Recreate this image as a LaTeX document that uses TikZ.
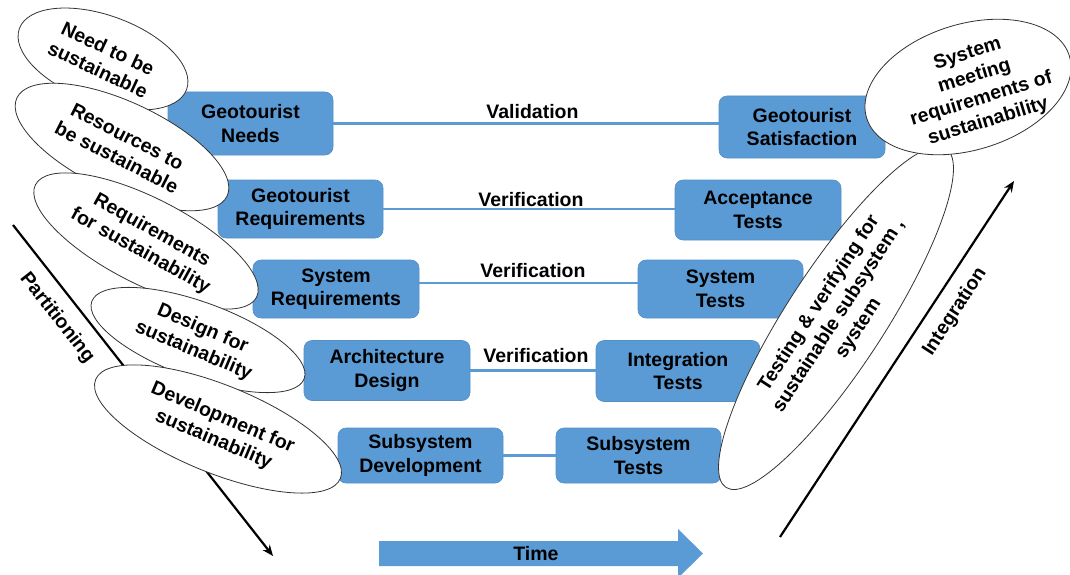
\documentclass[tikz,border=0pt]{standalone}
\usepackage{fontspec}
\setmainfont{Liberation Sans}
\usetikzlibrary{shapes.geometric,arrows.meta}
\definecolor{vblue}{RGB}{91,155,213}
\begin{document}
\begin{tikzpicture}[x=1pt,y=-1pt,
  every node/.style={font=\bfseries\fontsize{19.5}{23.5}\selectfont},
  stage/.style={rectangle, rounded corners=8pt, fill=vblue, draw=vblue!92!black,
    line width=0.6pt, align=center, inner sep=0pt},
  link/.style={draw=vblue, line width=2.5pt},
  linklbl/.style={anchor=base, inner sep=0pt},
  oval/.style={ellipse, draw=black!80, line width=0.8pt, fill=white, inner sep=0pt},
  ovaltext/.style={align=center, inner sep=0pt},
  axis/.style={draw=black, line width=2.2pt, -{Stealth[length=11pt,width=9pt]}},
]
\useasboundingbox (0,0) rectangle (1070,575);

% partitioning and integration axes
\coordinate (pa) at (13,225);
\coordinate (pb) at (273,556);
\draw[axis] (pa) -- (pb);
\node[rotate=-52, inner sep=0pt] (plbl) at (57,318) {Partitioning};

\coordinate (ia) at (780,537);
\coordinate (ib) at (1014,181);
\draw[axis] (ia) -- (ib);
\node[rotate=57, inner sep=0pt] (ilbl) at (955,312) {Integration};

% time arrow
\fill[vblue] (379,541) -- (678,541) -- (678,529) -- (703,553.5) -- (678,578)
  -- (678,566) -- (379,566) -- cycle;
\node[inner sep=0pt] (time) at (536,554) {Time};

% left branch
\node[stage, minimum width=165pt, minimum height=63pt] (gn) at (250.5,123.5) {Geotourist\\Needs};
\node[stage, minimum width=165pt, minimum height=58pt] (gr) at (300.5,209) {Geotourist\\Requirements};
\node[stage, minimum width=166pt, minimum height=58pt] (sr) at (336,289) {System\\Requirements};
\node[stage, minimum width=166pt, minimum height=60pt] (ad) at (387,370.5) {Architecture\\Design};
\node[stage, minimum width=165pt, minimum height=55pt] (sd) at (420.5,455.5) {Subsystem\\Development};

% right branch
\node[stage, minimum width=166pt, minimum height=62pt] (gs) at (802,127) {Geotourist\\Satisfaction};
\node[stage, minimum width=166pt, minimum height=60pt] (at) at (758,210) {Acceptance\\Tests};
\node[stage, minimum width=165pt, minimum height=58pt] (st) at (720.5,289) {System\\Tests};
\node[stage, minimum width=164pt, minimum height=61pt] (it) at (678,371) {Integration\\Tests};
\node[stage, minimum width=165pt, minimum height=55pt] (sts) at (638.5,455.5) {Subsystem\\Tests};

% links across the V
\draw[link] (gn.east) -- (gn.east -| gs.west);
\draw[link] (gr.east) -- (gr.east -| at.west);
\draw[link] ([yshift=6pt]sr.east) -- ([yshift=6pt]sr.east -| st.west);
\draw[link] (ad.east) -- (ad.east -| it.west);
\draw[link] (sd.east) -- (sd.east -| sts.west);

\node[linklbl] (l1) at (532.5,119) {Validation};
\node[linklbl] (l2) at (531,206) {Verification};
\node[linklbl] (l3) at (533,277) {Verification};
\node[linklbl] (l4) at (536,362) {Verification};

% sustainability ovals, left side
\node[oval, rotate=-20, minimum width=178pt, minimum height=87pt] (e1) at (103,59) {};
\node[ovaltext, rotate=-25] (t1) at (e1.center) {Need to be\\sustainable};
\node[oval, rotate=-25, minimum width=232pt, minimum height=90pt] (e2) at (122,147) {};
\node[ovaltext, rotate=-27] (t2) at (e2.center) {Resources to\\be sustainable};
\node[oval, rotate=-27, minimum width=248pt, minimum height=86pt] (e3) at (146,241) {};
\node[ovaltext, rotate=-29] (t3) at (e3.center) {Requirements\\for sustainability};
\node[oval, rotate=-20, minimum width=226pt, minimum height=76pt] (e4) at (198,340) {};
\node[ovaltext, rotate=-23] (t4) at (e4.center) {Design for\\sustainability};
\node[oval, rotate=-22, minimum width=264pt, minimum height=88pt] (e5) at (218,429) {};
\node[ovaltext, rotate=-23] (t5) at (e5.center) {Development for\\sustainability};

% sustainability ovals, right side
\node[oval, rotate=57, minimum width=404pt, minimum height=98pt] (e7) at (836,318) {};
\node[ovaltext, rotate=57] (t7) at (839,316) {Testing \& verifying for\\sustainable subsystem ,\\system};
\node[oval, rotate=17, minimum width=212pt, minimum height=126pt] (e6) at (968,87) {};
\node[ovaltext, rotate=17] (t6) at (978,88) {System\\meeting\\requirements of\\sustainability};
\end{tikzpicture}
\end{document}
